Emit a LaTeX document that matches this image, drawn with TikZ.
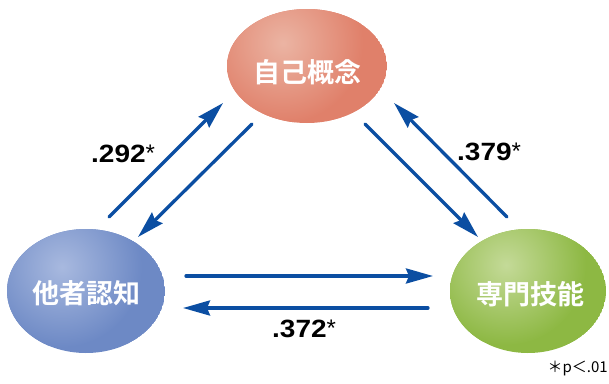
\documentclass[tikz,border=0pt]{standalone}
\usepackage{fontspec}
\usetikzlibrary{arrows.meta,shapes.geometric}
\newfontfamily\cjk{Noto Sans CJK JP}
\newfontfamily\cjkbold{Noto Sans CJK JP Bold}
\newfontfamily\numfont[FakeStretch=1.12]{Liberation Sans Bold}
\newfontfamily\astfont{Liberation Sans}
\definecolor{arrowblue}{HTML}{0B4EA2}
\definecolor{topbase}{HTML}{E0806A}
\definecolor{tophl}{HTML}{EBB4A3}
\definecolor{leftbase}{HTML}{6D89C5}
\definecolor{lefthl}{HTML}{A8B9DF}
\definecolor{rightbase}{HTML}{8DB843}
\definecolor{righthl}{HTML}{C4DA98}
\tikzset{
  conn/.style={draw=arrowblue, line width=3.3pt, line cap=round,
    -{Stealth[length=27pt,width=15pt,inset=3pt,line cap=butt,line join=miter]}},
  bubbletext/.style={text=white, font=\cjkbold\fontsize{27}{27}\selectfont, inner sep=0pt},
  coef/.style={anchor=base west, inner sep=0pt, font=\numfont\fontsize{25}{25}\selectfont},
}
\newcommand{\sigast}{\raisebox{0.5pt}{\astfont\fontsize{24}{24}\selectfont *}}
\begin{document}
\begin{tikzpicture}[x=1pt,y=-1pt]
\useasboundingbox (0,0) rectangle (609,383);
% top bubble
\begin{scope}
\clip (307,66) ellipse [x radius=80pt, y radius=57pt];
\fill[topbase] (307,66) ellipse [x radius=80pt, y radius=57pt];
\shade[inner color=tophl, outer color=topbase] (283,43) circle (80pt);
\end{scope}
\node[ellipse, inner sep=0pt, minimum width=160pt, minimum height=114pt] (self) at (307,66) {};
\node[bubbletext] (selft) at (307,72) {自己概念};
% left bubble
\begin{scope}
\clip (86,291) ellipse [x radius=79pt, y radius=62pt];
\fill[leftbase] (86,291) ellipse [x radius=79pt, y radius=62pt];
\shade[inner color=lefthl, outer color=leftbase] (62,267) circle (80pt);
\end{scope}
\node[ellipse, inner sep=0pt, minimum width=158pt, minimum height=124pt] (other) at (86,291) {};
\node[bubbletext] (othert) at (86,293) {他者認知};
% right bubble
\begin{scope}
\clip (528,291) ellipse [x radius=78pt, y radius=62pt];
\fill[rightbase] (528,291) ellipse [x radius=78pt, y radius=62pt];
\shade[inner color=righthl, outer color=rightbase] (506,265) circle (80pt);
\end{scope}
\node[ellipse, inner sep=0pt, minimum width=156pt, minimum height=124pt] (skill) at (528,291) {};
\node[bubbletext] (skillt) at (530,294) {専門技能};
% arrow end points
\coordinate (a1s) at (109,217); \coordinate (a1e) at (223,103);
\coordinate (a2s) at (252,124); \coordinate (a2e) at (138,237);
\coordinate (a3s) at (365,124); \coordinate (a3e) at (478,237);
\coordinate (a4s) at (507,217); \coordinate (a4e) at (394,103);
\coordinate (a5s) at (186,276); \coordinate (a5e) at (433,276);
\coordinate (a6s) at (428,308); \coordinate (a6e) at (183,308);
\draw[conn] (a1s) -- (a1e);
\draw[conn] (a2s) -- (a2e);
\draw[conn] (a3s) -- (a3e);
\draw[conn] (a4s) -- (a4e);
\draw[conn] (a5s) -- (a5e);
\draw[conn] (a6s) -- (a6e);
% coefficients
\node[coef] (c1) at (91,162) {.292\sigast};
\node[coef] (c2) at (457,160) {.379\sigast};
\node[coef] (c3) at (272,337) {.372\sigast};
% note
\node[anchor=base east, inner sep=0pt, font=\cjk\fontsize{15}{15}\selectfont] (note) at (608,372) {＊p＜.01};
\end{tikzpicture}
\end{document}
